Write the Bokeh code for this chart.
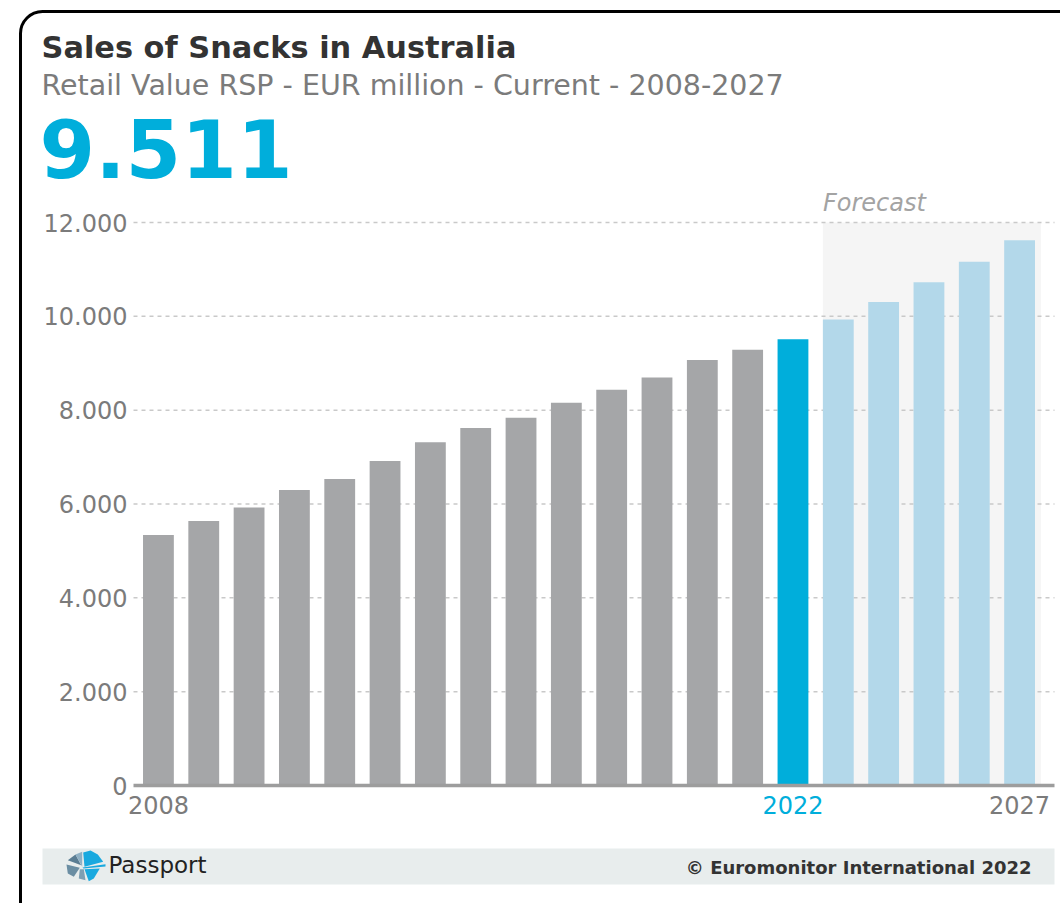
from bokeh.plotting import figure
from bokeh.models import Range1d, BoxAnnotation, Label, PolyAnnotation
from bokeh.embed import file_html
from bokeh.resources import INLINE

# ---------------- data ----------------
years = list(range(2008, 2028))
values = [5340, 5640, 5925, 6300, 6535, 6915, 7315, 7620, 7840, 8160,
          8435, 8695, 9070, 9290, 9511, 9930, 10305, 10725, 11165, 11620]
current_year = 2022
y_ticks = [0, 2000, 4000, 6000, 8000, 10000, 12000]
x_ticks = [2008, 2022, 2027]
title_text = "Sales of Snacks in Australia"
subtitle_text = "Retail Value RSP - EUR million - Current - 2008-2027"
forecast_text = "Forecast"
brand_text = "Passport"
copyright_text = "\u00a9 Euromonitor International 2022"

# ---------------- styles / layout ----------------
GREY = "#a5a6a8"
BLUE = "#00aedb"
LIGHT = "#b3d8ea"
TXT_GREY = "#7b7b7b"
FONT = "DejaVu Sans"
BAR_W = 0.68
BASE_SHIFT = 0.38   # bokeh's alphabetic anchor sits this many em above the glyph baseline

W, H = 1060, 903
# plot area in page pixels and the data values at its edges
FL, FR, FT, FB = 133, 1054, 222, 785
X0, X1 = years[0] - 0.55, years[-1] + 0.77
Y0, Y1 = 0, y_ticks[-1]
kx = (X1 - X0) / (FR - FL)
ky = (Y1 - Y0) / (FB - FT)


def base(y, size):
    """canvas y for a label whose glyph baseline should sit at page y"""
    return y - BASE_SHIFT * size


colors = [GREY if y < current_year else (BLUE if y == current_year else LIGHT) for y in years]
headline = f"{values[years.index(current_year)] / 1000:.3f}"

p = figure(width=W, height=H, output_backend="svg", toolbar_location=None,
           x_range=Range1d(X0 - FL * kx, X1 + (W - FR) * kx),
           y_range=Range1d(Y0 - (H - FB) * ky, Y1 + FT * ky),
           x_axis_location=None, y_axis_location=None, min_border=0)
p.title.visible = False
p.outline_line_color = None
p.background_fill_color = "white"
p.border_fill_color = "white"
p.xgrid.visible = False
p.ygrid.visible = False

# forecast shading
p.add_layout(BoxAnnotation(left=current_year + 1 - BAR_W / 2, right=years[-1] + 0.47,
                           bottom=Y0, top=Y1,
                           fill_color="#f5f5f5", fill_alpha=1.0, line_color=None,
                           level="image"))

# horizontal dashed grid lines at the y ticks
grid_ticks = [t for t in y_ticks if t > 0]
p.segment(x0=[X0] * len(grid_ticks), x1=[X1] * len(grid_ticks), y0=grid_ticks, y1=grid_ticks,
          line_color="#c9c9c9", line_width=1.5, line_dash="4 4")

# bars
p.vbar(x=years, top=values, width=BAR_W, color=colors, line_color=None)

# baseline (x axis line)
p.segment(x0=[X0], x1=[X1], y0=[0], y1=[0], line_color="#9d9d9d", line_width=3.5)

# y tick labels
for t in y_ticks:
    p.add_layout(Label(x=X0, y=t, x_units="data", y_units="data", x_offset=-6,
                       text=f"{t:,}".replace(",", "."), text_align="right",
                       text_baseline="alphabetic",
                       text_font=FONT, text_font_size="24px", text_color=TXT_GREY))

# x tick labels
for yr in x_ticks:
    p.add_layout(Label(x=yr, x_units="data", y=base(814, 24), y_units="canvas",
                       text=str(yr), text_align="center", text_baseline="alphabetic",
                       text_font=FONT, text_font_size="24px",
                       text_color=BLUE if yr == current_year else TXT_GREY))

# forecast label
p.add_layout(Label(x=current_year + 1 - BAR_W / 2, x_units="data", y=base(212, 24),
                   y_units="canvas",
                   text=forecast_text, text_align="left", text_baseline="alphabetic",
                   text_font=FONT, text_font_size="24px", text_font_style="italic",
                   text_color="#a3a3a3"))

# header texts
p.add_layout(Label(x=41, y=base(59, 30.4), x_units="canvas", y_units="canvas", text=title_text,
                   text_font=FONT, text_font_size="30.4px", text_font_style="bold",
                   text_color="#333333", text_baseline="alphabetic"))
p.add_layout(Label(x=41, y=base(96, 28.5), x_units="canvas", y_units="canvas", text=subtitle_text,
                   text_font=FONT, text_font_size="28.5px",
                   text_color="#7b7b7b", text_baseline="alphabetic"))
p.add_layout(Label(x=39, y=base(178, 80), x_units="canvas", y_units="canvas", text=headline,
                   text_font=FONT, text_font_size="80px", text_font_style="bold",
                   text_color=BLUE, text_baseline="alphabetic"))

# footer band
p.add_layout(BoxAnnotation(left=42, right=1054, top=848, bottom=884,
                           left_units="canvas", right_units="canvas",
                           top_units="canvas", bottom_units="canvas",
                           fill_color="#e8eded", fill_alpha=1.0, line_color=None))

# logo (decorative pinwheel)
logo = [
    ([67.3, 75, 80.7], [859.7, 854, 864.7], "#5a7d93"),
    ([66, 79.3, 73.3, 67.3], [864, 867.3, 876.3, 873], "#6b8ea3"),
    ([75, 81.7, 81.7], [854, 851.3, 866.3], "#8fb0c4"),
    ([79.3, 83.3, 85, 78.3], [868.7, 868.7, 879.7, 878], "#7d9fb3"),
    ([82.7, 90, 97.3, 102.7, 84], [852, 850, 854, 861.3, 866.3], "#19a9df"),
    ([82, 105, 105, 83], [867, 863.8, 866, 868], "#19a9df"),
    ([84, 99.3, 93.3, 88.3], [868.7, 868, 878, 880.7], "#19a9df"),
]
for xs, ys, c in logo:
    p.add_layout(PolyAnnotation(xs=xs, ys=[H - y for y in ys],
                                xs_units="screen", ys_units="screen",
                                fill_color=c, fill_alpha=1.0, line_color=None))

p.add_layout(Label(x=108, y=base(873, 23), x_units="canvas", y_units="canvas", text=brand_text,
                   text_font=FONT, text_font_size="23px",
                   text_color="#222222", text_baseline="alphabetic"))
p.add_layout(Label(x=1031, y=base(874, 18), x_units="canvas", y_units="canvas",
                   text=copyright_text,
                   text_font=FONT, text_font_size="18px", text_font_style="bold",
                   text_color="#333333", text_align="right", text_baseline="alphabetic"))

# outer rounded frame
p.add_layout(BoxAnnotation(left=20, right=1200, top=11, bottom=1100,
                           left_units="canvas", right_units="canvas",
                           top_units="canvas", bottom_units="canvas",
                           fill_alpha=0.0, line_color="black", line_alpha=1.0, line_width=3,
                           border_radius=22))

open("out.html", "w").write(file_html(p, INLINE))
